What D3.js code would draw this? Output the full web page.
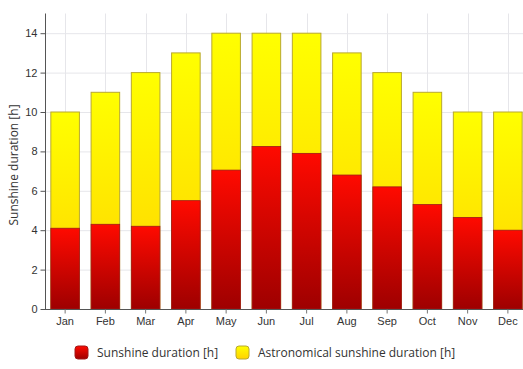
<!DOCTYPE html>
<html>
<head>
<meta charset="utf-8">
<script src="https://cdn.jsdelivr.net/npm/d3@7"></script>
<style>
  html, body { margin: 0; padding: 0; background: #fff; }
  svg { display: block; font-family: "Open Sans", "Segoe UI", sans-serif; }
</style>
</head>
<body>
<svg id="chart" width="523" height="369"></svg>
<script>
// Monthly sunshine figures (hours per day)
const months = ["Jan", "Feb", "Mar", "Apr", "May", "Jun", "Jul", "Aug", "Sep", "Oct", "Nov", "Dec"];
const sunshine = [4.1, 4.3, 4.2, 5.5, 7.05, 8.25, 7.9, 6.8, 6.2, 5.3, 4.65, 4.0];
const astronomical = [10, 11, 12, 13, 14, 14, 14, 13, 12, 11, 10, 10];
const yTicks = [0, 2, 4, 6, 8, 10, 12, 14];
const seriesNames = ["Sunshine duration [h]", "Astronomical sunshine duration [h]"];

const svg = d3.select("#chart");
const margin = { left: 45, top: 13.5, bottom: 309 };

const x = d3.scaleBand().domain(months).range([45, 528]).paddingInner(0.29).paddingOuter(0.145);
const y = d3.scaleLinear().domain([0, 15]).range([margin.bottom, margin.top]);

// Gradients for the two series
const defs = svg.append("defs");
function grad(id, top, bottom) {
  const g = defs.append("linearGradient").attr("id", id)
    .attr("x1", 0).attr("y1", 0).attr("x2", 0).attr("y2", 1);
  g.append("stop").attr("offset", "0%").attr("stop-color", top);
  g.append("stop").attr("offset", "100%").attr("stop-color", bottom);
}
grad("gYellow", "#ffff00", "#ffd200");
grad("gRed", "#ff0a00", "#9e0000");

// Grid
const grid = svg.append("g");
grid.selectAll("line.h").data(yTicks).join("line")
  .attr("x1", 45).attr("x2", 523)
  .attr("y1", d => y(d) + 0.5).attr("y2", d => y(d) + 0.5)
  .attr("stroke", "#e6e6ea").attr("stroke-width", 1);
grid.selectAll("line.v").data(months).join("line")
  .attr("x1", d => Math.round(x(d) + x.bandwidth() / 2) + 0.5)
  .attr("x2", d => Math.round(x(d) + x.bandwidth() / 2) + 0.5)
  .attr("y1", margin.top).attr("y2", margin.bottom)
  .attr("stroke", "#e6e6ea").attr("stroke-width", 1);

// Astronomical sunshine (yellow) bars behind
svg.append("g").selectAll("rect").data(months).join("rect")
  .attr("x", d => x(d))
  .attr("width", x.bandwidth())
  .attr("y", (d, i) => y(astronomical[i]))
  .attr("height", (d, i) => y(0) - y(astronomical[i]))
  .attr("fill", "url(#gYellow)")
  .attr("stroke", "#b8a830").attr("stroke-width", 1);

// Actual sunshine (red) bars in front
svg.append("g").selectAll("rect").data(months).join("rect")
  .attr("x", d => x(d))
  .attr("width", x.bandwidth())
  .attr("y", (d, i) => y(sunshine[i]))
  .attr("height", (d, i) => y(0) - y(sunshine[i]))
  .attr("fill", "url(#gRed)")
  .attr("stroke", "#a01818").attr("stroke-width", 0.8);

// Axes
const yAxis = svg.append("g").attr("transform", "translate(45.5,0)")
  .call(d3.axisLeft(y).tickValues(yTicks).tickSize(5).tickPadding(3));
yAxis.select(".domain").attr("stroke", "#555").attr("d", `M0,${margin.top}V${margin.bottom}`);
yAxis.selectAll(".tick line").attr("stroke", "#555");
yAxis.selectAll(".tick text").attr("fill", "#333").style("font-size", "11px");

const xAxis = svg.append("g").attr("transform", `translate(0,${margin.bottom + 0.5})`)
  .call(d3.axisBottom(x).tickSize(4).tickPadding(4));
xAxis.select(".domain").attr("stroke", "#555").attr("d", "M45,0H523");
xAxis.selectAll(".tick line").attr("stroke", "#777");
xAxis.selectAll(".tick text").attr("fill", "#333").style("font-size", "11px");

// Y axis title
svg.append("text")
  .attr("transform", "translate(18,165) rotate(-90)")
  .attr("text-anchor", "middle")
  .attr("fill", "#333")
  .style("font-size", "12px")
  .text("Sunshine duration [h]");

// Legend
const legend = svg.append("g");
const legendItems = [
  { name: seriesNames[0], fill: "url(#gRed)", stroke: "#a01818", x: 75 },
  { name: seriesNames[1], fill: "url(#gYellow)", stroke: "#b8a830", x: 236 }
];
legendItems.forEach(it => {
  legend.append("rect")
    .attr("x", it.x).attr("y", 346).attr("width", 13).attr("height", 13)
    .attr("rx", 3).attr("fill", it.fill).attr("stroke", it.stroke);
  legend.append("text")
    .attr("x", it.x + 22).attr("y", 357)
    .attr("fill", "#333").style("font-size", "12px")
    .text(it.name);
});
</script>
</body>
</html>
